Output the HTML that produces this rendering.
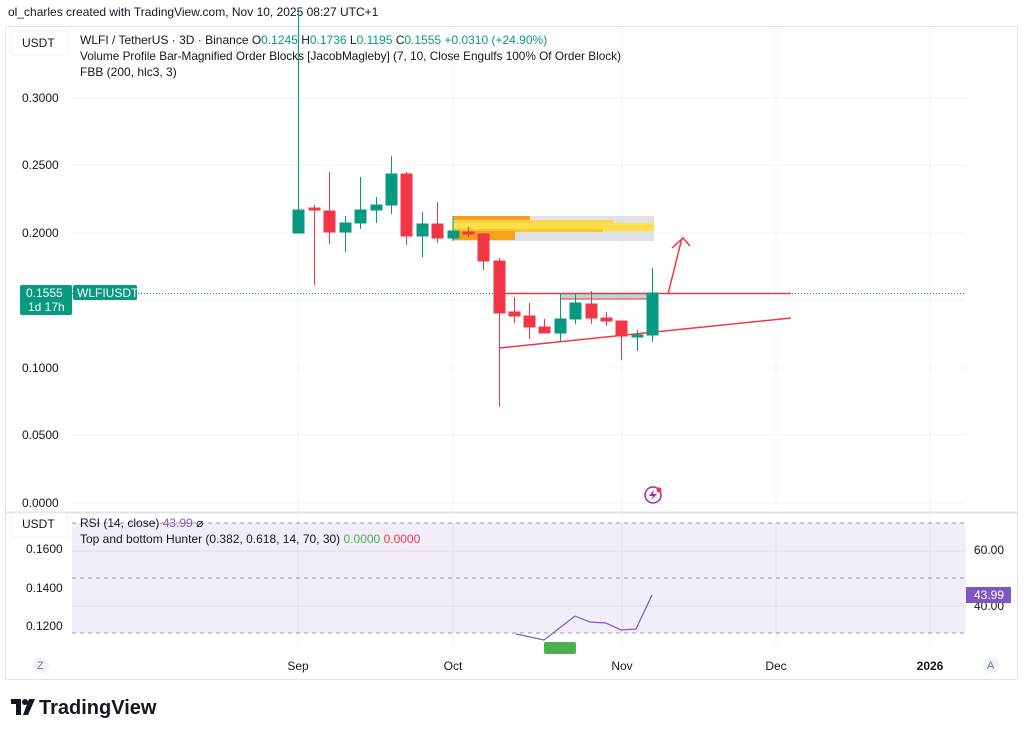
<!DOCTYPE html>
<html><head><meta charset="utf-8"><style>
body{margin:0;width:1024px;height:735px;background:#fff;font-family:"Liberation Sans",sans-serif;overflow:hidden}
</style></head><body>
<svg width="1024" height="735" xmlns="http://www.w3.org/2000/svg" font-family="Liberation Sans, sans-serif">
<text x="8" y="16" font-size="12" fill="#131722">ol_charles created with TradingView.com, Nov 10, 2025 08:27 UTC+1</text>
<rect x="5.5" y="26.5" width="1012" height="653" fill="#fff" stroke="#e0e3eb" rx="2"/>
<g stroke="#f0f3fa" stroke-width="1">
<line x1="298" y1="27" x2="298" y2="650"/><line x1="453" y1="27" x2="453" y2="650"/><line x1="622" y1="27" x2="622" y2="650"/><line x1="776" y1="27" x2="776" y2="650"/><line x1="930" y1="27" x2="930" y2="650"/>
<line x1="72" y1="98" x2="966" y2="98"/><line x1="72" y1="165" x2="966" y2="165"/><line x1="72" y1="233" x2="966" y2="233"/><line x1="72" y1="300" x2="966" y2="300"/><line x1="72" y1="368" x2="966" y2="368"/><line x1="72" y1="435" x2="966" y2="435"/><line x1="72" y1="503" x2="966" y2="503"/>
</g>
<line x1="6" y1="512.5" x2="1017" y2="512.5" stroke="#e0e3eb" stroke-width="2"/>
<rect x="11" y="31" width="57" height="24" rx="4" fill="#fff" stroke="#eef0f3"/>
<text x="22" y="47" font-size="12" fill="#131722">USDT</text>
<text x="80" y="44" font-size="12" fill="#131722">WLFI / TetherUS · 3D · Binance  O<tspan fill="#089981">0.1245</tspan>  H<tspan fill="#089981">0.1736</tspan>  L<tspan fill="#089981">0.1195</tspan>  C<tspan fill="#089981">0.1555  +0.0310 (+24.90%)</tspan></text>
<text x="80" y="60" font-size="11.8" fill="#131722" textLength="541">Volume Profile Bar-Magnified Order Blocks [JacobMagleby] (7, 10, Close Engulfs 100% Of Order Block)</text>
<text x="80" y="76" font-size="12" fill="#131722">FBB (200, hlc3, 3)</text>
<g font-size="12" fill="#131722">
<text x="22" y="102">0.3000</text><text x="22" y="169">0.2500</text><text x="22" y="237">0.2000</text><text x="22" y="372">0.1000</text><text x="22" y="439">0.0500</text><text x="22" y="507">0.0000</text>
</g>
<rect x="453" y="216" width="201" height="25" fill="#d9dadf" opacity="0.8"/>
<rect x="453" y="216" width="77" height="5" fill="#f7a21b"/>
<rect x="453" y="220" width="160" height="4" fill="#fbd34a"/>
<rect x="453" y="223" width="201" height="8" fill="#fde047"/>
<rect x="453" y="229" width="150" height="3" fill="#f9c52b"/>
<rect x="453" y="231" width="62" height="9" fill="#f7a21b"/>
<line x1="453" y1="216" x2="453" y2="241" stroke="#089981"/>
<line x1="72" y1="293.5" x2="966" y2="293.5" stroke="#089981" stroke-dasharray="1,2"/>
<rect x="560" y="294" width="92" height="5" fill="#b9d9d3"/>
<line x1="560" y1="299" x2="652" y2="299" stroke="#f23645" stroke-width="1"/>
<line x1="499" y1="293.5" x2="791" y2="293.5" stroke="#f23645" stroke-width="1.5"/>
<line x1="499" y1="348" x2="791" y2="318" stroke="#f23645" stroke-width="1.5"/>
<polyline points="668,294 682,238" stroke="#f23645" stroke-width="1.5" fill="none"/>
<polyline points="672,248 683,238 690,246" stroke="#f23645" stroke-width="1.5" fill="none"/>
<g stroke-width="1">
<g stroke="#089981" fill="#089981">
<line x1="298.5" y1="10" x2="298.5" y2="233"/><rect x="293" y="210" width="11" height="23"/>
<line x1="345.5" y1="216" x2="345.5" y2="252"/><rect x="340" y="223" width="11" height="9"/>
<line x1="360.5" y1="177" x2="360.5" y2="229"/><rect x="355" y="210" width="11" height="13"/>
<line x1="376.5" y1="197" x2="376.5" y2="223"/><rect x="371" y="205" width="11" height="5"/>
<line x1="391.5" y1="156" x2="391.5" y2="214"/><rect x="386" y="174" width="11" height="31"/>
<line x1="422.5" y1="212" x2="422.5" y2="257"/><rect x="417" y="224" width="11" height="12"/>
<line x1="453.5" y1="231" x2="453.5" y2="240"/><rect x="448" y="231" width="11" height="7"/>
<line x1="560.5" y1="293" x2="560.5" y2="342"/><rect x="555" y="319" width="11" height="14"/>
<line x1="575.5" y1="293" x2="575.5" y2="324"/><rect x="570" y="303" width="11" height="16"/>
<line x1="637.5" y1="330" x2="637.5" y2="351"/><rect x="632" y="335" width="11" height="2"/>
<line x1="652.5" y1="268" x2="652.5" y2="342"/><rect x="647" y="293" width="11" height="42"/>
</g>
<g stroke="#f23645" fill="#f23645">
<line x1="314.5" y1="205" x2="314.5" y2="285"/><rect x="309" y="208" width="11" height="2"/>
<line x1="329.5" y1="172" x2="329.5" y2="244"/><rect x="324" y="211" width="11" height="21"/>
<line x1="406.5" y1="172" x2="406.5" y2="245"/><rect x="401" y="174" width="11" height="62"/>
<line x1="437.5" y1="202" x2="437.5" y2="243"/><rect x="432" y="224" width="11" height="14"/>
<line x1="468.5" y1="227" x2="468.5" y2="237"/><rect x="463" y="232" width="11" height="2"/>
<line x1="483.5" y1="233" x2="483.5" y2="270"/><rect x="478" y="234" width="11" height="27"/>
<line x1="499.5" y1="258" x2="499.5" y2="407"/><rect x="494" y="261" width="11" height="52"/>
<line x1="514.5" y1="297" x2="514.5" y2="323"/><rect x="509" y="312" width="11" height="4"/>
<line x1="529.5" y1="303" x2="529.5" y2="339"/><rect x="524" y="316" width="11" height="11"/>
<line x1="544.5" y1="319" x2="544.5" y2="333"/><rect x="539" y="327" width="11" height="6"/>
<line x1="591.5" y1="291" x2="591.5" y2="324"/><rect x="586" y="304" width="11" height="14"/>
<line x1="606.5" y1="312" x2="606.5" y2="326"/><rect x="601" y="318" width="11" height="3"/>
<line x1="621.5" y1="321" x2="621.5" y2="360"/><rect x="616" y="321" width="11" height="15"/>
</g></g>
<rect x="20" y="285" width="52" height="30" rx="2" fill="#089981"/>
<text x="26" y="297" font-size="12" fill="#fff">0.1555</text><text x="28" y="311" font-size="12" fill="#fff">1d 17h</text>
<rect x="73" y="285" width="64" height="15" rx="2" fill="#089981"/>
<text x="77" y="297" font-size="12" fill="#fff">WLFIUSDT</text>
<circle cx="653" cy="495" r="8" fill="#fff" stroke="#9c27b0" stroke-width="1.5"/>
<path d="M654 490 L649 496 L653 496 L651 500 L657 494 L653 494 Z" fill="#9c27b0"/>
<circle cx="659" cy="490" r="2.5" fill="#f23645"/>
<rect x="72" y="523" width="894" height="110" fill="#7e57c2" opacity="0.1"/>
<line x1="72" y1="551" x2="966" y2="551" stroke="#e0dcec"/><line x1="72" y1="606" x2="966" y2="606" stroke="#e0dcec"/>
<g stroke="#9598a1" stroke-dasharray="4,4"><line x1="72" y1="523" x2="966" y2="523"/><line x1="72" y1="578" x2="966" y2="578"/><line x1="72" y1="633" x2="966" y2="633"/></g>
<polyline points="516,634 544,640 575,616 590,622 606,623 621,630 636,629 652,595" fill="none" stroke="#7e57c2" stroke-width="1.2"/>
<rect x="544" y="642" width="32" height="12" rx="2" fill="#4caf50"/>
<rect x="11" y="513" width="57" height="24" rx="4" fill="#fff" stroke="#eef0f3"/>
<text x="22" y="528" font-size="12" fill="#131722">USDT</text>
<text x="80" y="527" font-size="12" fill="#131722">RSI (14, close) <tspan fill="#7e57c2">43.99</tspan> ⌀</text>
<text x="80" y="543" font-size="12" fill="#131722">Top and bottom Hunter (0.382, 0.618, 14, 70, 30) <tspan fill="#4caf50">0.0000</tspan> <tspan fill="#f23645">0.0000</tspan></text>
<g font-size="12" fill="#131722"><text x="26" y="553">0.1600</text><text x="26" y="592">0.1400</text><text x="26" y="630">0.1200</text>
<text x="974" y="554">60.00</text><text x="974" y="610">40.00</text></g>
<rect x="966" y="587" width="45" height="16" fill="#7e57c2"/><text x="974" y="599" font-size="12" fill="#fff">43.99</text>
<circle cx="41" cy="665" r="8" fill="#f0f3fa"/><text x="37" y="669" font-size="11" fill="#787b86">Z</text>
<circle cx="991" cy="665" r="8" fill="#f0f3fa"/><text x="987" y="669" font-size="11" fill="#787b86">A</text>
<g font-size="12" fill="#131722" text-anchor="middle"><text x="298" y="670">Sep</text><text x="453" y="670">Oct</text><text x="622" y="670">Nov</text><text x="776" y="670">Dec</text><text x="930" y="670" font-weight="bold">2026</text></g>
<path d="M11 699h10v16h-5v-11h-5z" fill="#131722"/><circle cx="25" cy="702" r="3" fill="#131722"/><path d="M29 699h6l-7 16h-5z" fill="#131722"/>
<text x="39" y="714" font-size="20" font-weight="bold" fill="#131722">TradingView</text>
</svg>
</body></html>
